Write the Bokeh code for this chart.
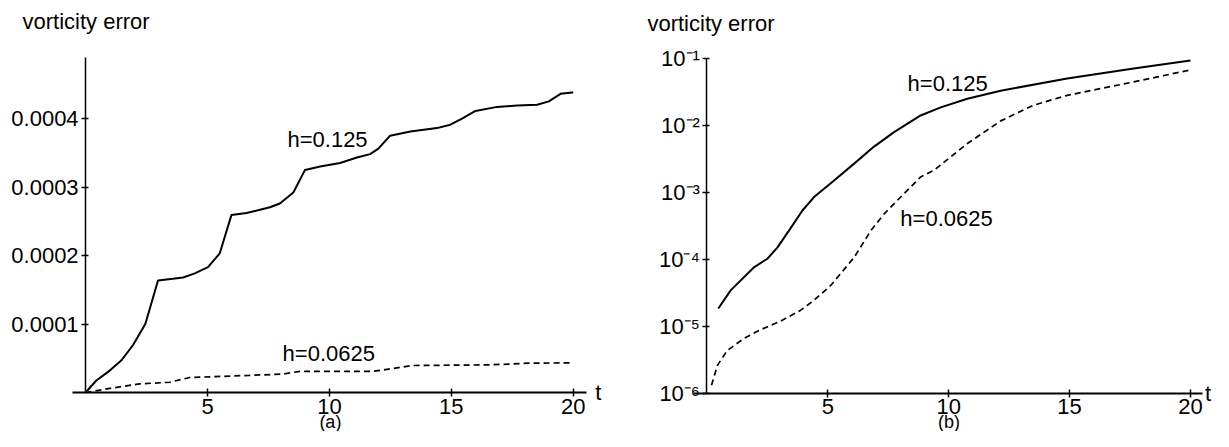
from bokeh.plotting import figure
from bokeh.layouts import row
from bokeh.models import FixedTicker, PrintfTickFormatter, Label, Range1d
from bokeh.embed import file_html
from bokeh.resources import INLINE

# ---------------- data ----------------
# panel (a): linear scale
t_a_h125 = [0, 0.44, 0.99, 1.46, 1.94, 2.45, 2.97, 3.58, 4.0, 4.48, 5.02, 5.5, 5.98,
            6.6, 7.56, 7.97, 8.52, 9.0, 9.62, 10.44, 11.13, 11.67, 12.01, 12.49,
            13.32, 14.41, 14.96, 15.44, 15.99, 16.88, 17.7, 18.52, 19.0, 19.48,
            19.96, 20.0]
err_a_h125 = [0, 0.175e-4, 0.32e-4, 0.467e-4, 0.69e-4, 1.0e-4, 1.635e-4, 1.66e-4,
              1.68e-4, 1.74e-4, 1.83e-4, 2.03e-4, 2.59e-4, 2.62e-4, 2.705e-4,
              2.76e-4, 2.92e-4, 3.25e-4, 3.30e-4, 3.35e-4, 3.43e-4, 3.48e-4,
              3.56e-4, 3.75e-4, 3.81e-4, 3.86e-4, 3.91e-4, 4.0e-4, 4.11e-4,
              4.17e-4, 4.19e-4, 4.2e-4, 4.25e-4, 4.36e-4, 4.38e-4, 4.38e-4]

t_a_h0625 = [0, 1.0, 2.2, 3.45, 4.27, 5.2, 6.7, 8.1, 8.8, 9.2, 11.8, 12.5, 13.4,
             16.6, 18.2, 20.0]
err_a_h0625 = [0, 0.6e-5, 1.26e-5, 1.5e-5, 2.2e-5, 2.3e-5, 2.5e-5, 2.7e-5, 3.1e-5,
               3.1e-5, 3.1e-5, 3.45e-5, 3.94e-5, 4.04e-5, 4.28e-5, 4.34e-5]

# panel (b): log scale
t_b_h125 = [0.47, 0.99, 1.96, 2.5, 2.92, 3.4, 3.95, 4.43, 5.26, 6.09, 6.9, 7.74,
            8.84, 9.67, 10.77, 12.15, 14.9, 17.65, 20.0]
err_b_h125 = [1.84e-5, 3.47e-5, 7.67e-5, 1.02e-4, 1.51e-4, 2.71e-4, 5.37e-4,
              8.51e-4, 1.51e-3, 2.69e-3, 4.79e-3, 7.94e-3, 1.41e-2, 1.86e-2,
              2.51e-2, 3.31e-2, 5.01e-2, 7.08e-2, 9.33e-2]

t_b_h0625 = [0.19, 0.44, 0.85, 1.54, 2.23, 3.06, 3.88, 4.43, 5.12, 6.09, 6.78, 7.33,
             8.15, 8.84, 9.39, 10.77, 12.15, 13.5, 14.9, 17.65, 20.0]
err_b_h0625 = [1.32e-6, 2.63e-6, 4.37e-6, 6.61e-6, 8.91e-6, 1.20e-5, 1.74e-5,
               2.45e-5, 4.07e-5, 1.07e-4, 2.69e-4, 4.79e-4, 9.55e-4, 1.70e-3,
               2.14e-3, 5.37e-3, 1.17e-2, 2.0e-2, 2.82e-2, 4.47e-2, 6.76e-2]

x_ticks = [5, 10, 15, 20]
y_ticks_a = [0.0001, 0.0002, 0.0003, 0.0004]
y_ticks_b = [1e-6, 1e-5, 1e-4, 1e-3, 1e-2, 1e-1]
y_labels_b = ["10\u207b\u2076", "10\u207b\u2075", "10\u207b\u2074",
              "10\u207b\u00b3", "10\u207b\u00b2", "10\u207b\u00b9"]

FONT = "Liberation Sans"
FS = "22px"


def style(p, x_at, x_bounds, y_bounds):
    p.outline_line_color = None
    p.grid.visible = False
    p.background_fill_color = "white"
    p.border_fill_color = "white"
    for ax in p.axis:
        ax.major_label_text_font = FONT
        ax.major_label_text_font_size = FS
        ax.major_label_text_color = "black"
        ax.minor_tick_line_color = None
        ax.axis_line_color = "black"
        ax.major_tick_line_color = "black"
    p.xaxis.ticker = FixedTicker(ticks=x_ticks)
    p.xaxis.fixed_location = x_at
    p.xaxis.bounds = x_bounds
    p.xaxis.axis_line_width = 2
    p.xaxis.major_tick_in = 4
    p.xaxis.major_tick_out = 4
    p.xaxis.major_tick_line_width = 1.5
    p.xaxis.major_label_standoff = 2
    p.yaxis.fixed_location = 0
    p.yaxis.bounds = y_bounds
    p.yaxis.axis_line_width = 1.5
    p.yaxis.major_tick_in = 3
    p.yaxis.major_tick_out = 4
    p.yaxis.major_tick_line_width = 1.5
    p.yaxis.major_label_standoff = 3


def lab(p, x, y, text, align="left", baseline="middle", size=FS):
    p.add_layout(Label(x=x, y=y, text=text, text_font=FONT, text_font_size=size,
                       text_color="black", text_align=align,
                       text_baseline=baseline))


# ---------------- panel (a) ----------------
pa = figure(width=608, height=431, min_border=0,
            x_range=Range1d(-3.491, 21.448), y_range=Range1d(-0.569e-4, 5.723e-4),
            output_backend="svg", toolbar_location=None)
style(pa, 0, (-0.54, 20.54), (0, 4.89e-4))
pa.yaxis.ticker = FixedTicker(ticks=y_ticks_a)
pa.yaxis.formatter = PrintfTickFormatter(format="%.4f")
pa.line(t_a_h125, err_a_h125, line_color="black", line_width=2)
pa.line(t_a_h0625, err_a_h0625, line_color="black", line_width=1.7,
        line_dash="6 4")
lab(pa, 8.28, 3.69e-4, "h=0.125")
lab(pa, 8.08, 0.57e-4, "h=0.0625")
lab(pa, -2.59, 5.41e-4, "vorticity error")
lab(pa, 20.9, 0.0, "t")
lab(pa, 10.04, -0.569e-4, "(a)", align="center", baseline="bottom", size="18px")

# ---------------- panel (b) ----------------
pb = figure(width=605, height=431, min_border=0,
            x_range=Range1d(-4.070, 20.951), y_range=Range1d(2.68e-7, 0.7356),
            y_axis_type="log", output_backend="svg", toolbar_location=None)
style(pb, 1e-6, (-0.55, 20.5), (1e-6, 1e-1))
pb.yaxis.ticker = FixedTicker(ticks=y_ticks_b)
pb.yaxis.major_label_overrides = {v: s for v, s in zip(y_ticks_b, y_labels_b)}
pb.line(t_b_h125, err_b_h125, line_color="black", line_width=2)
pb.line(t_b_h0625, err_b_h0625, line_color="black", line_width=1.7,
        line_dash="6 4")
lab(pb, 8.30, 0.0424, "h=0.125")
lab(pb, 8.0, 4.07e-4, "h=0.0625")
lab(pb, -2.46, 0.339, "vorticity error")
lab(pb, 20.6, 1e-6, "t")
lab(pb, 10.01, 2.68e-7, "(b)", align="center", baseline="bottom", size="18px")

layout = row(pa, pb)
open("out.html", "w").write(file_html(layout, INLINE))
